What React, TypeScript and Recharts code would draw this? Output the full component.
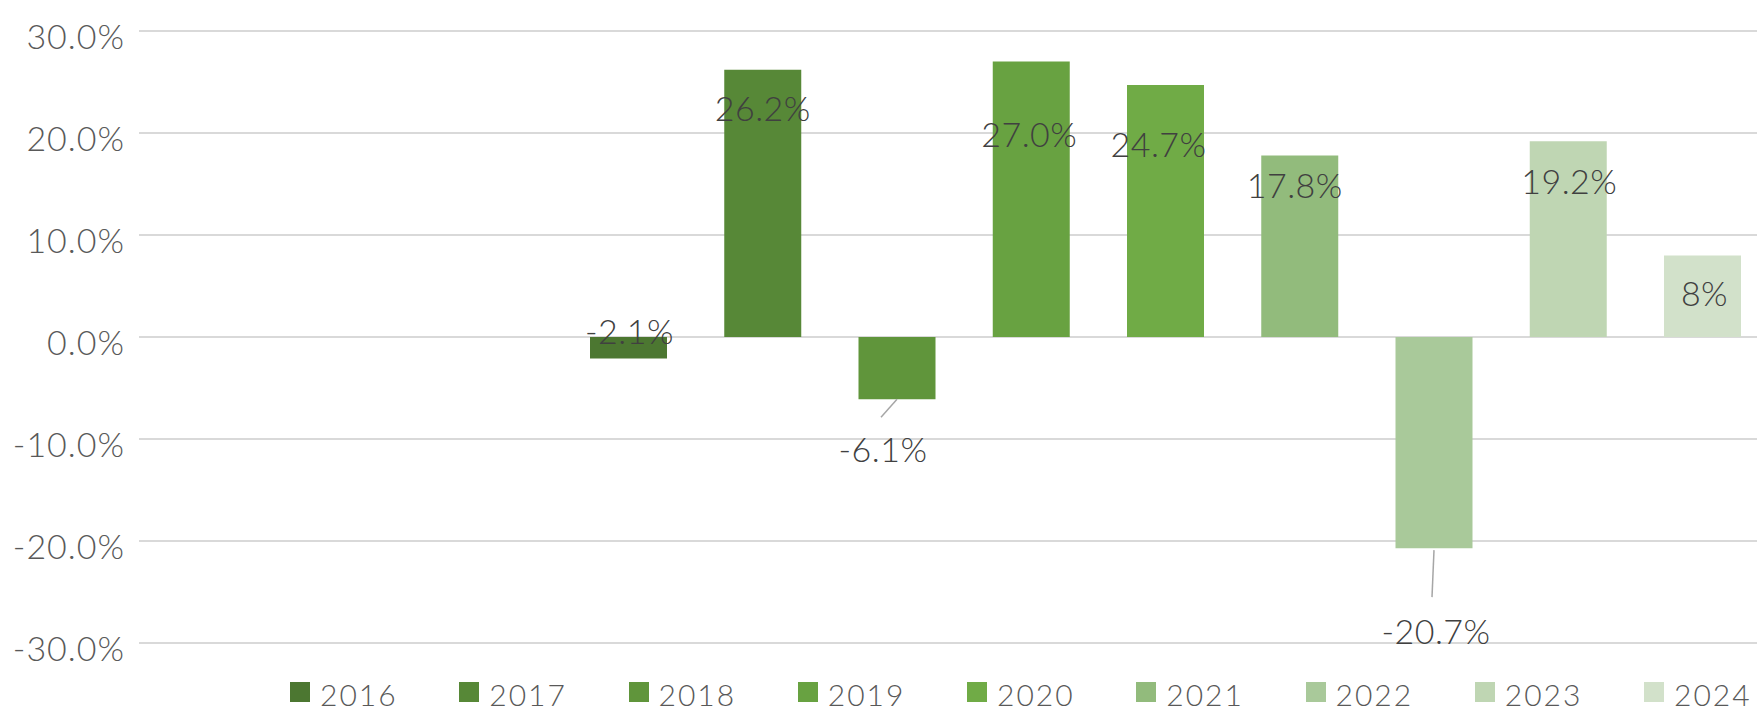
import React from 'react';
import { BarChart, Bar, XAxis, YAxis, CartesianGrid, Legend, LabelList } from 'recharts';

// ---- data ----
const categories = ['Rendement'];
const years = ['2016', '2017', '2018', '2019', '2020', '2021', '2022', '2023', '2024'];
const returns = [-2.1, 26.2, -6.1, 27.0, 24.7, 17.8, -20.7, 19.2, 8.0];
const valueLabels = ['-2.1%', '26.2%', '-6.1%', '27.0%', '24.7%', '17.8%', '-20.7%', '19.2%', '8%'];
const yTicks = [-30, -20, -10, 0, 10, 20, 30];
const yTickLabels = ['-30.0%', '-20.0%', '-10.0%', '0.0%', '10.0%', '20.0%', '30.0%'];

// ---- styles ----
const colors = ['#4C7731', '#578837', '#60953B', '#68A241', '#70AB46', '#92BB7C', '#A9C99A', '#BFD6B3', '#D2E1CA'];
// label centre offset from the bar end (top for positive, bottom for negative)
const labelPlacement = [
  { dx: 1, dy: -30 },
  { dx: 0, dy: 36 },
  { dx: -14, dy: 47 },
  { dx: -2, dy: 70 },
  { dx: -7, dy: 56 },
  { dx: -5, dy: 27 },
  { dx: 2, dy: 80 },
  { dx: 1, dy: 37 },
  { dx: 2, dy: 35 },
];
const leaders: (null | { x1: number; y1: number; x2: number; y2: number })[] = [
  null, null, { x1: 0, y1: 0, x2: -16, y2: 18 }, null, null, null, { x1: 0, y1: 2, x2: -2, y2: 49 }, null, null,
];

const FONT = 'Lato, "Open Sans", sans-serif';
const WEIGHT = 300;
const AXIS_COLOR = '#595959';
const LABEL_COLOR = '#404040';

const data = categories.map((name) => {
  const row: Record<string, string | number> = { name };
  years.forEach((yr, i) => {
    row['y' + yr] = returns[i];
  });
  return row;
});

const YTick = (props: any) => {
  const { x, y, payload } = props;
  const idx = yTicks.indexOf(payload.value);
  return (
    <text x={x} y={y + 4} textAnchor="end" dominantBaseline="central" fontFamily={FONT} fontSize={34}
      fontWeight={WEIGHT} fill={AXIS_COLOR} letterSpacing={1}>
      {idx >= 0 ? yTickLabels[idx] : payload.value}
    </text>
  );
};

const makeLabel = (i: number) => (props: any) => {
  const vb = props.viewBox && props.viewBox.width != null ? props.viewBox : props;
  const x = Number(vb.x);
  const y = Number(vb.y);
  const w = Number(vb.width);
  const h = Number(vb.height);
  const top = Math.min(y, y + h);
  const bottom = Math.max(y, y + h);
  const positive = returns[i] >= 0;
  const cx = x + w / 2;
  const endY = positive ? top : bottom;
  const p = labelPlacement[i];
  const ld = leaders[i];
  return (
    <g>
      {ld && (
        <line x1={cx + ld.x1} y1={endY + ld.y1} x2={cx + ld.x2} y2={endY + ld.y2} stroke="#a6a6a6" strokeWidth={1.5} />
      )}
      <text x={cx + p.dx} y={endY + p.dy + 2} textAnchor="middle" dominantBaseline="central" fontFamily={FONT}
        fontSize={34} fontWeight={WEIGHT} fill={LABEL_COLOR} letterSpacing={0.5}>
        {valueLabels[i]}
      </text>
    </g>
  );
};

const LegendContent = (props: any) => {
  const payload = props.payload || [];
  return (
    <div style={{ display: 'flex', height: 36, alignItems: 'flex-start' }}>
      {payload.map((entry: any, i: number) => (
        <div key={i} style={{ width: 169.25, flex: '0 0 auto', position: 'relative', height: 36 }}>
          <div style={{ position: 'absolute', left: 0, top: 8, width: 20, height: 20, background: entry.color }} />
          <div style={{ position: 'absolute', left: 30, top: 0, fontFamily: FONT, fontSize: 30, fontWeight: WEIGHT,
            lineHeight: '40px', color: AXIS_COLOR, letterSpacing: 2, whiteSpace: 'nowrap' }}>
            {entry.value}
          </div>
        </div>
      ))}
    </div>
  );
};

export default function App() {
  return (
    <div style={{ position: 'fixed', left: 0, top: 0, width: 1757, height: 713, overflow: 'hidden', background: '#fff' }}>
      <BarChart width={2200} height={713} data={data} margin={{ top: 31, right: 8, left: 0, bottom: 34 }}
        barSize={77} barGap={57.25}>
        <CartesianGrid vertical={false} stroke="#d9d9d9" strokeWidth={2} />
        <XAxis dataKey="name" hide />
        <YAxis domain={[-30, 30]} ticks={yTicks} axisLine={false} tickLine={false} width={139} tickSize={6}
          tickMargin={8} tick={<YTick />} interval={0} />
        <Legend verticalAlign="bottom" content={<LegendContent />}
          wrapperStyle={{ position: 'absolute', left: 290, top: 674, width: 1700, height: 36 }} />
        {years.map((yr, i) => (
          <Bar key={yr} dataKey={'y' + yr} name={yr} fill={colors[i]} isAnimationActive={false}>
            <LabelList dataKey={'y' + yr} content={makeLabel(i)} />
          </Bar>
        ))}
      </BarChart>
    </div>
  );
}
